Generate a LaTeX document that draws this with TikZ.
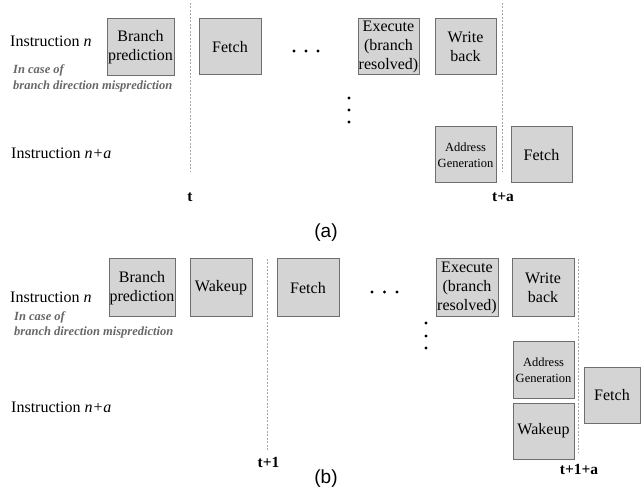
\documentclass[tikz,border=0pt]{standalone}
\usepackage{fontspec}
\setmainfont{Liberation Serif}
\newfontfamily\capsans{Liberation Sans}
\definecolor{boxfill}{HTML}{D4D4D4}
\definecolor{boxline}{HTML}{6E6E6E}
\definecolor{notegrey}{HTML}{666666}
\definecolor{guidegrey}{HTML}{A8A8A8}
\begin{document}
\begin{tikzpicture}[x=1pt,y=-1pt,
  stage/.style={draw=boxline, fill=boxfill, line width=1pt, inner sep=0pt,
    align=center, font=\fontsize{16}{19}\selectfont},
  wh/.style 2 args={minimum width=#1, minimum height=#2},
  smallstage/.style={font=\fontsize{12.5}{16}\selectfont},
  rowlabel/.style={anchor=west, inner sep=0pt, font=\fontsize{16}{19}\selectfont},
  note/.style={anchor=west, inner sep=0pt, text=notegrey,
    font=\fontsize{12.5}{15}\selectfont\bfseries\itshape},
  timelabel/.style={inner sep=0pt, font=\fontsize{15.5}{18}\selectfont\bfseries},
  caption/.style={inner sep=0pt, font=\fontsize{19}{22}\selectfont\capsans},
  guide/.style={draw=guidegrey, line width=0.8pt, dash pattern=on 2pt off 1.5pt},
  dot/.style={fill=black, draw=none}
]
\useasboundingbox (0,0) rectangle (641,492);

% ---------------- (a) ----------------
\node[rowlabel] (ina) at (10,41) {Instruction \textit{n}};
\node[note] (nca1) at (13,70) {In case of};
\node[note] (nca2) at (13,86) {branch direction misprediction};
\node[rowlabel] (inaa) at (11,153) {Instruction \textit{n+a}};

\node[stage, wh={67}{57}] (bpa) at (140.5,47) {Branch\\prediction};
\node[stage, wh={62}{56}] (fea) at (230,47) {Fetch};
\node[stage, wh={61}{56}] (exa) at (388.5,47) {Execute\\(branch\\resolved)};
\node[stage, wh={61}{56}] (wba) at (465.5,47) {Write\\back};
\node[stage, smallstage, wh={61}{56}] (aga) at (465.5,155) {Address\\Generation};
\node[stage, wh={61}{56}] (fea2) at (541.5,155) {Fetch};

\coordinate (ga1t) at (190,3); \coordinate (ga1b) at (190,172);
\coordinate (ga2t) at (502,3); \coordinate (ga2b) at (502,172);
\draw[guide] (ga1t) -- (ga1b);
\draw[guide] (ga2t) -- (ga2b);

\node[timelabel] (ta) at (190,197) {t};
\node[timelabel] (taa) at (503,197) {t+a};

\foreach \xx in {294,306,318} \fill[dot] (\xx,51) circle (1.7);
\foreach \yy in {98,110,122} \fill[dot] (349,\yy) circle (1.7);

\node[caption] (capa) at (326,233) {(a)};

% ---------------- (b) ----------------
\node[rowlabel] (inb) at (10,297) {Instruction \textit{n}};
\node[note] (ncb1) at (14,317) {In case of};
\node[note] (ncb2) at (14,332) {branch direction misprediction};
\node[rowlabel] (inba) at (11,407) {Instruction \textit{n+a}};

\node[stage, wh={66}{58}] (bpb) at (142,288) {Branch\\prediction};
\node[stage, wh={62}{58}] (wkb) at (221,288) {Wakeup};
\node[stage, wh={62}{58}] (feb) at (308,288) {Fetch};
\node[stage, wh={62}{58}] (exb) at (467,288) {Execute\\(branch\\resolved)};
\node[stage, wh={62}{58}] (wbb) at (543,288) {Write\\back};
\node[stage, smallstage, wh={61}{56}] (agb) at (543.5,370) {Address\\Generation};
\node[stage, wh={61}{56}] (wkb2) at (543.5,431) {Wakeup};
\node[stage, wh={56}{55}] (feb2) at (612,395.5) {Fetch};

\coordinate (gb1t) at (267,259); \coordinate (gb1b) at (267,450);
\coordinate (gb2t) at (578,259); \coordinate (gb2b) at (578,452);
\draw[guide] (gb1t) -- (gb1b);
\draw[guide] (gb2t) -- (gb2b);

\node[timelabel] (tb) at (268.5,462) {t+1};
\node[timelabel] (tba) at (579,469) {t+1+a};

\foreach \xx in {372,384.5,397} \fill[dot] (\xx,292) circle (1.7);
\foreach \yy in {323,336,348} \fill[dot] (426,\yy) circle (1.7);

\node[caption] (capb) at (326,479) {(b)};
\end{tikzpicture}
\end{document}
